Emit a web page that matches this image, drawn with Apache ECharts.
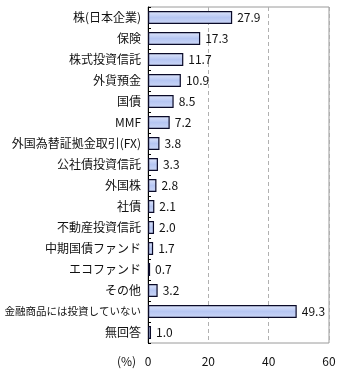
<!DOCTYPE html>
<html><head><meta charset="utf-8">
<script src="https://cdn.jsdelivr.net/npm/echarts@6/dist/echarts.min.js"></script>
<style>html,body{margin:0;padding:0;background:#fff}#c{width:340px;height:375px}</style>
</head><body><div id="c"></div>
<script>
const categories = ["株(日本企業)","保険","株式投資信託","外貨預金","国債","MMF","外国為替証拠金取引(FX)","公社債投資信託","外国株","社債","不動産投資信託","中期国債ファンド","エコファンド","その他","金融商品には投資していない","無回答"];
const values = [27.9,17.3,11.7,10.9,8.5,7.2,3.8,3.3,2.8,2.1,2.0,1.7,0.7,3.2,49.3,1.0];
const xTicks = [0,20,40,60];
const unitLabel = "(%)";

const FONT = '"Noto Sans CJK JP", sans-serif';
const chart = echarts.init(document.getElementById('c'), null, {renderer:'canvas'});
chart.setOption({
  animation:false,
  grid:{left:148,right:11,top:7,bottom:32,show:true,borderColor:'#9a9a9a',borderWidth:1,containLabel:false},
  xAxis:{type:'value',min:xTicks[0],max:xTicks[xTicks.length-1],interval:20,
    axisLine:{show:false},axisTick:{show:false},
    splitLine:{show:true,lineStyle:{color:'#b0b0b0',type:[4,3],width:1}},
    axisLabel:{color:'#111',fontSize:12,fontFamily:FONT,margin:12}},
  yAxis:{type:'category',data:categories,inverse:true,
    axisLine:{show:true,lineStyle:{color:'#000',width:1}},
    axisTick:{show:true,inside:true,length:3,lineStyle:{color:'#000'}},
    axisLabel:{color:'#111',fontSize:12,fontFamily:FONT,margin:7,
      formatter:v=>(v.indexOf('(')<0 && v.length>12)?'{s|'+v+'}':v,
      rich:{s:{fontSize:10.5,fontFamily:FONT,color:'#111'}}}},
  series:[{type:'bar',data:values,barWidth:13,
    itemStyle:{borderColor:'#0a0a28',borderWidth:1.2,
      color:new echarts.graphic.LinearGradient(0,0,0,1,[
        {offset:0,color:'#dfe6fb'},{offset:0.5,color:'#b6c6f3'},{offset:1,color:'#ccd7f6'}])},
    label:{show:true,position:'right',distance:5,color:'#111',fontSize:12,fontFamily:FONT,
      formatter:p=>p.value.toFixed(1)}}],
  graphic:[{type:'text',left:117,top:355,style:{text:unitLabel,fill:'#111',font:'12px '+FONT}}]
});
</script></body></html>
